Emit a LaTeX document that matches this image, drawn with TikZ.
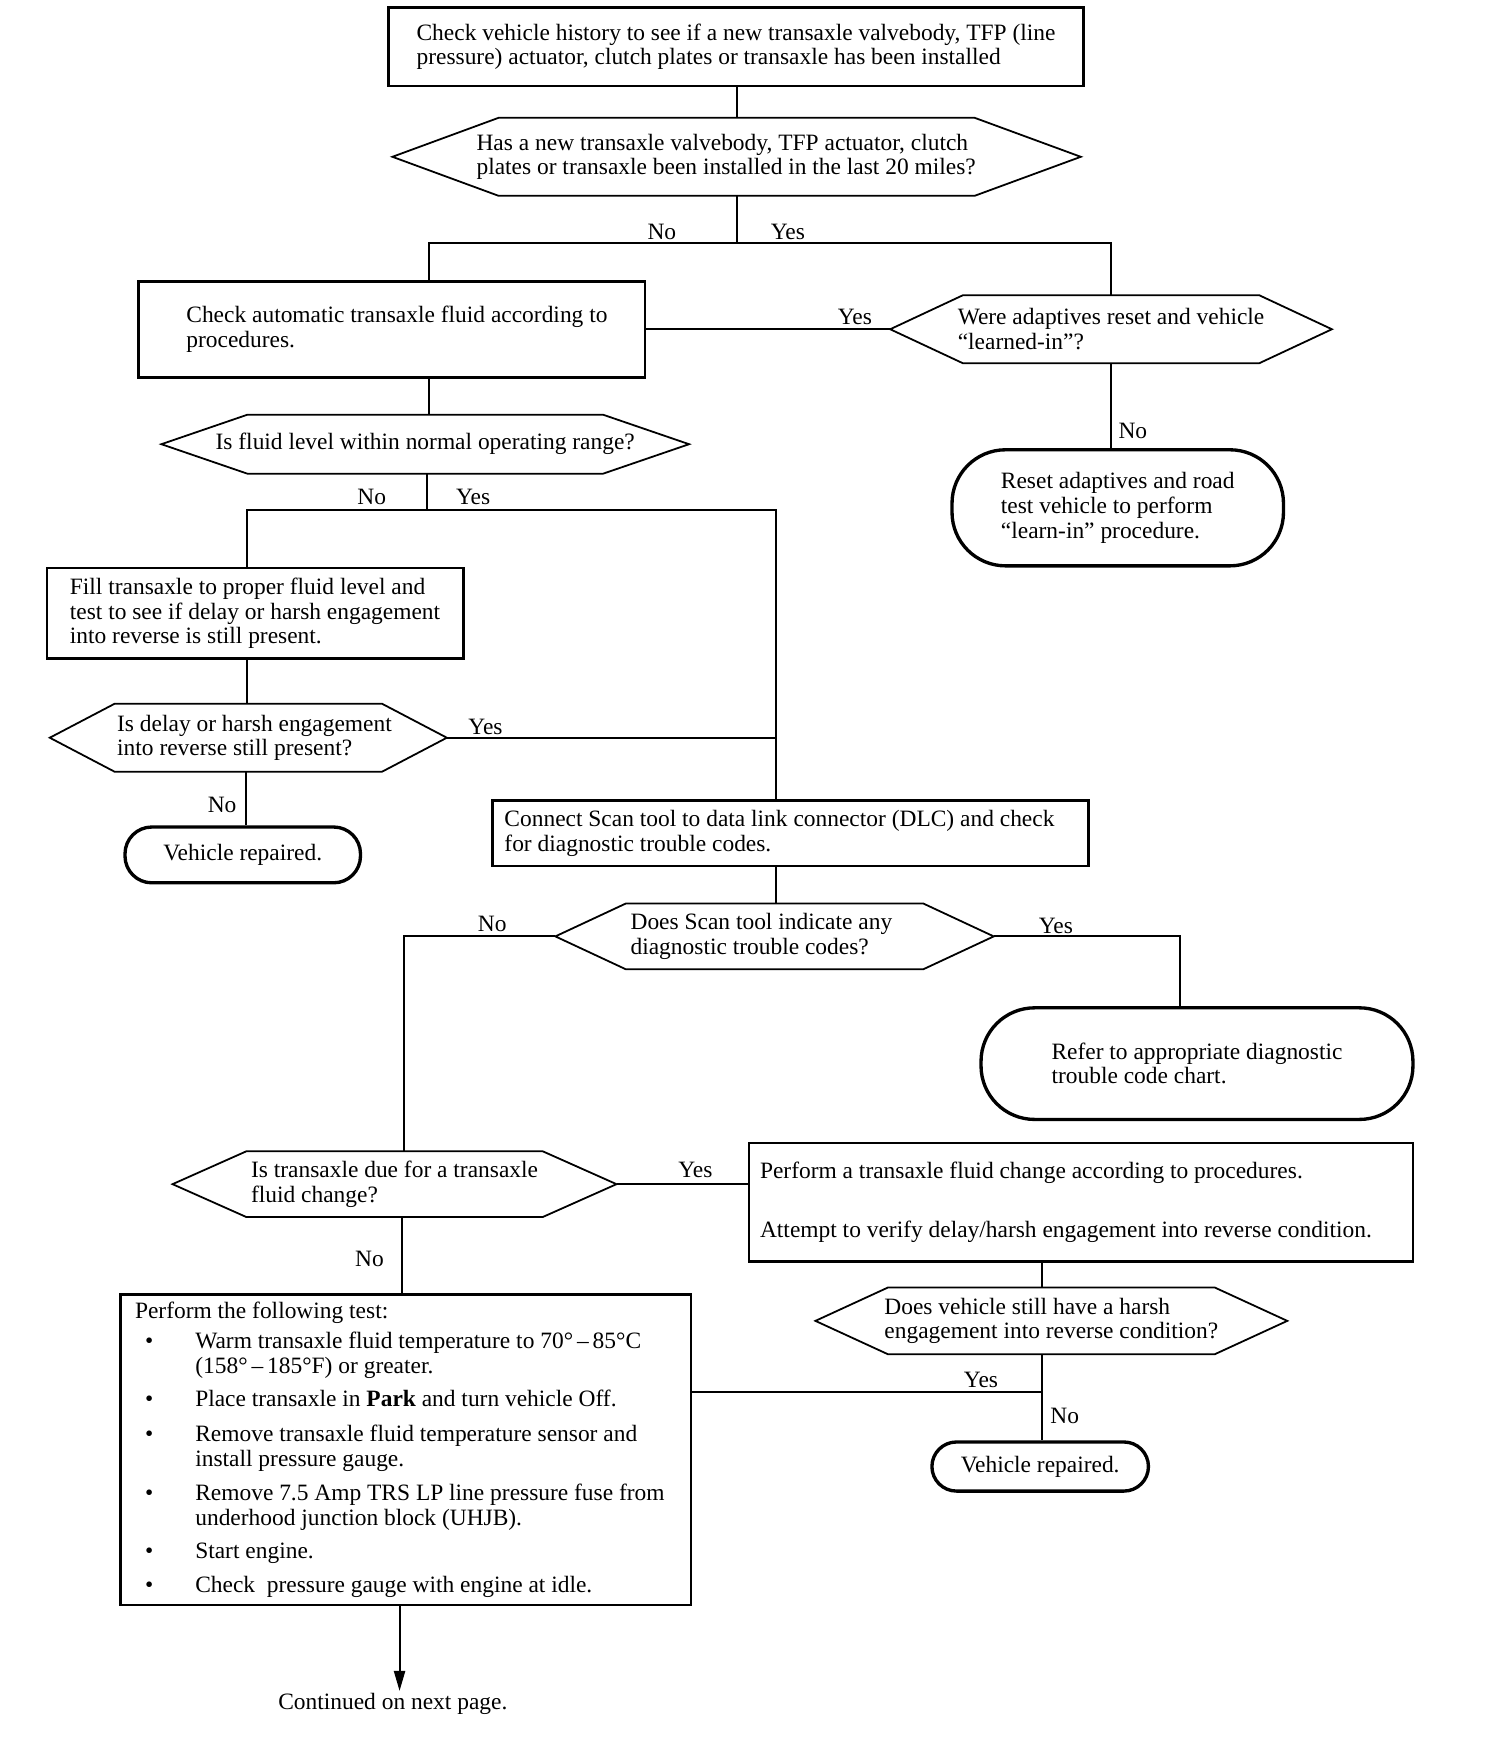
\documentclass[tikz,border=0pt]{standalone}
\usepackage{fontspec}
\setmainfont{Liberation Serif}
\usetikzlibrary{arrows.meta}
\newcommand\boxat[7]{%
  \node[#1, minimum width={(#5-#3)*0.5pt}, minimum height={(#6-#4)*0.5pt}] (#2) at ({(#3+#5)/2},{(#4+#6)/2}) {#7};}
\newcommand\hexat[8][]{%
  \node[hexn, #1, minimum width={(#5-#3)*0.5pt}, minimum height={(#6-#4)*0.5pt}] (#2) at ({(#3+#5)/2},{(#4+#6)/2}) {#8};
  \draw[hexline] (#2.west) -- ([xshift=#7*0.5pt]#2.north west) -- ([xshift=-#7*0.5pt]#2.north east) -- (#2.east) -- ([xshift=-#7*0.5pt]#2.south east) -- ([xshift=#7*0.5pt]#2.south west) -- cycle;}
\newcommand\bulitem{\makebox[27pt][l]{\hspace{4.5pt}\textbullet}}
\newcommand\bulind{\hspace*{27pt}}
\begin{document}
\begin{tikzpicture}[x=0.5pt,y=-0.5pt,
  every node/.style={font=\fontsize{10.5}{11}\selectfont},
  boxn/.style={draw, line width=1.2pt, rectangle, align=left, inner sep=0pt},
  lboxn/.style={draw, line width=1.2pt, rectangle, align=flush left, inner sep=0pt, text width=#1},
  termn/.style={draw, line width=1.5pt, rectangle, rounded corners=#1, align=left, inner sep=0pt},
  hexn/.style={inner sep=0pt, align=left},
  lhexn/.style={inner sep=0pt, align=flush left, text width=#1},
  hexline/.style={line width=0.8pt, line join=miter},
  conn/.style={line width=0.9pt},
  lbl/.style={inner sep=0pt}]
\useasboundingbox[fill=white] (0,0) rectangle (1348,1568);

\boxat{boxn}{b1}{348}{7}{971}{77}{Check vehicle history to see if a new transaxle valvebody, TFP (line\\pressure) actuator, clutch plates or transaxle has been installed}
\hexat[lhexn=233pt]{d1}{352}{106}{968}{175}{95}{\mbox{Has a new transaxle valvebody, TFP actuator, clutch}\\\mbox{plates or transaxle been installed in the last 20 miles?}}
\boxat{lboxn=184pt}{b2}{124}{252}{578}{338}{\mbox{Check automatic transaxle fluid according to}\\\mbox{procedures.}}
\hexat{d2}{798}{265}{1193}{325}{65}{Were adaptives reset and vehicle\\“learned-in”?}
\boxat{termn=24pt}{t1}{853}{403}{1150}{507}{Reset adaptives and road\\test vehicle to perform\\“learn-in” procedure.}
\hexat{d3}{145}{372}{617}{424}{77}{Is fluid level within normal operating range?}
\boxat{boxn}{b3}{42}{509}{415}{590}{Fill transaxle to proper fluid level and\\test to see if delay or harsh engagement\\into reverse is still present.}
\hexat[lhexn=117.5pt]{d4}{45}{631}{400}{691}{58}{\mbox{Is delay or harsh engagement}\\\mbox{into reverse still present?}}
\boxat{termn=12pt}{t2}{112}{741}{323}{791}{Vehicle repaired.}
\boxat{lboxn=256pt}{b4}{441}{717}{975}{776}{\mbox{Connect Scan tool to data link connector (DLC) and check}\\\mbox{for diagnostic trouble codes.}}
\hexat[lhexn=129pt]{d5}{498}{810}{890}{868}{63}{\mbox{Does Scan tool indicate any}\\\mbox{diagnostic trouble codes?}}
\boxat{termn=24pt}{t3}{879}{903}{1266}{1003}{Refer to appropriate diagnostic\\trouble code chart.}
\hexat{d6}{155}{1032}{552}{1090}{66}{Is transaxle due for a transaxle\\fluid change?}
\boxat{lboxn=287.5pt}{b5}{671}{1024}{1266}{1130}{\mbox{Perform a transaxle fluid change according to procedures.}\\[15.5pt]\mbox{Attempt to verify delay/harsh engagement into reverse condition.}}
\hexat{d7}{731}{1154}{1153}{1213}{65}{Does vehicle still have a harsh\\engagement into reverse condition?}
\boxat{termn=11pt}{t4}{835}{1292}{1029}{1336}{Vehicle repaired.}
\boxat{lboxn=242.5pt}{b6}{108}{1160}{619}{1438}{\mbox{Perform the following test:}\\[2.5pt]
\mbox{\bulitem Warm transaxle fluid temperature to 70°\,–\,85°C}\\
\mbox{\bulind (158°\,–\,185°F) or greater.}\\[4pt]
\mbox{\bulitem Place transaxle in \textbf{Park} and turn vehicle Off.}\\[4.5pt]
\mbox{\bulitem Remove transaxle fluid temperature sensor and}\\
\mbox{\bulind install pressure gauge.}\\[4.5pt]
\mbox{\bulitem Remove 7.5 Amp TRS LP line pressure fuse from}\\
\mbox{\bulind underhood junction block (UHJB).}\\[4pt]
\mbox{\bulitem Start engine.}\\[4pt]
\mbox{\bulitem Check\ \ pressure gauge with engine at idle.}}
\node[lbl] (cont) at (352,1527) {Continued on next page.};

% labels
\node[lbl] (l1) at (593,208) {No};
\node[lbl] (l2) at (706,208) {Yes};
\node[lbl] (l3) at (766,284) {Yes};
\node[lbl] (l4) at (1015,386) {No};
\node[lbl] (l5) at (333,445) {No};
\node[lbl] (l6) at (424,445) {Yes};
\node[lbl] (l7) at (435,651) {Yes};
\node[lbl] (l8) at (199,721) {No};
\node[lbl] (l9) at (441,828) {No};
\node[lbl] (l10) at (946,830) {Yes};
\node[lbl] (l11) at (623,1048) {Yes};
\node[lbl] (l12) at (331,1128) {No};
\node[lbl] (l13) at (879,1236) {Yes};
\node[lbl] (l14) at (954,1269) {No};

% junctions
\coordinate (j1) at (660,218);
\coordinate (j2) at (383,457);
\coordinate (j3) at (934,1247);

% connectors
\draw[conn] (660,0 |- b1.south) -- (660,0 |- d1.north);
\draw[conn] (d1.south) -- (j1);
\draw[conn] (j1) -| (384,0 |- b2.north);
\draw[conn] (j1) -| (d2.north);
\draw[conn] (b2.east) -- (d2.west);
\draw[conn] (d2.south) -- (d2.south |- t1.north);
\draw[conn] (384,0 |- b2.south) -- (384,0 |- d3.north);
\draw[conn] (383,0 |- d3.south) -- (j2);
\draw[conn] (j2) -| (221,0 |- b3.north);
\draw[conn] (j2) -| (695,0 |- b4.north);
\draw[conn] (221,0 |- b3.south) -- (221,0 |- d4.north);
\draw[conn] (d4.east) -- (d4.east -| 695,0);
\draw[conn] (220,0 |- d4.south) -- (220,0 |- t2.north);
\draw[conn] (695,0 |- b4.south) -- (695,0 |- d5.north);
\draw[conn] (d5.west) -| (362,0 |- d6.north);
\draw[conn] (d5.east) -| (1057,0 |- t3.north);
\draw[conn] (d6.east) -- (d6.east -| b5.west);
\draw[conn] (360,0 |- d6.south) -- (360,0 |- b6.north);
\draw[conn] (934,0 |- b5.south) -- (934,0 |- d7.north);
\draw[conn] (934,0 |- d7.south) -- (934,0 |- t4.north);
\draw[conn] (b6.east |- j3) -- (j3);
\draw[conn, -{Triangle[length=9pt,width=5pt]}] (358,0 |- b6.south) -- ([yshift=1pt]358,0 |- cont.north);
\end{tikzpicture}
\end{document}
